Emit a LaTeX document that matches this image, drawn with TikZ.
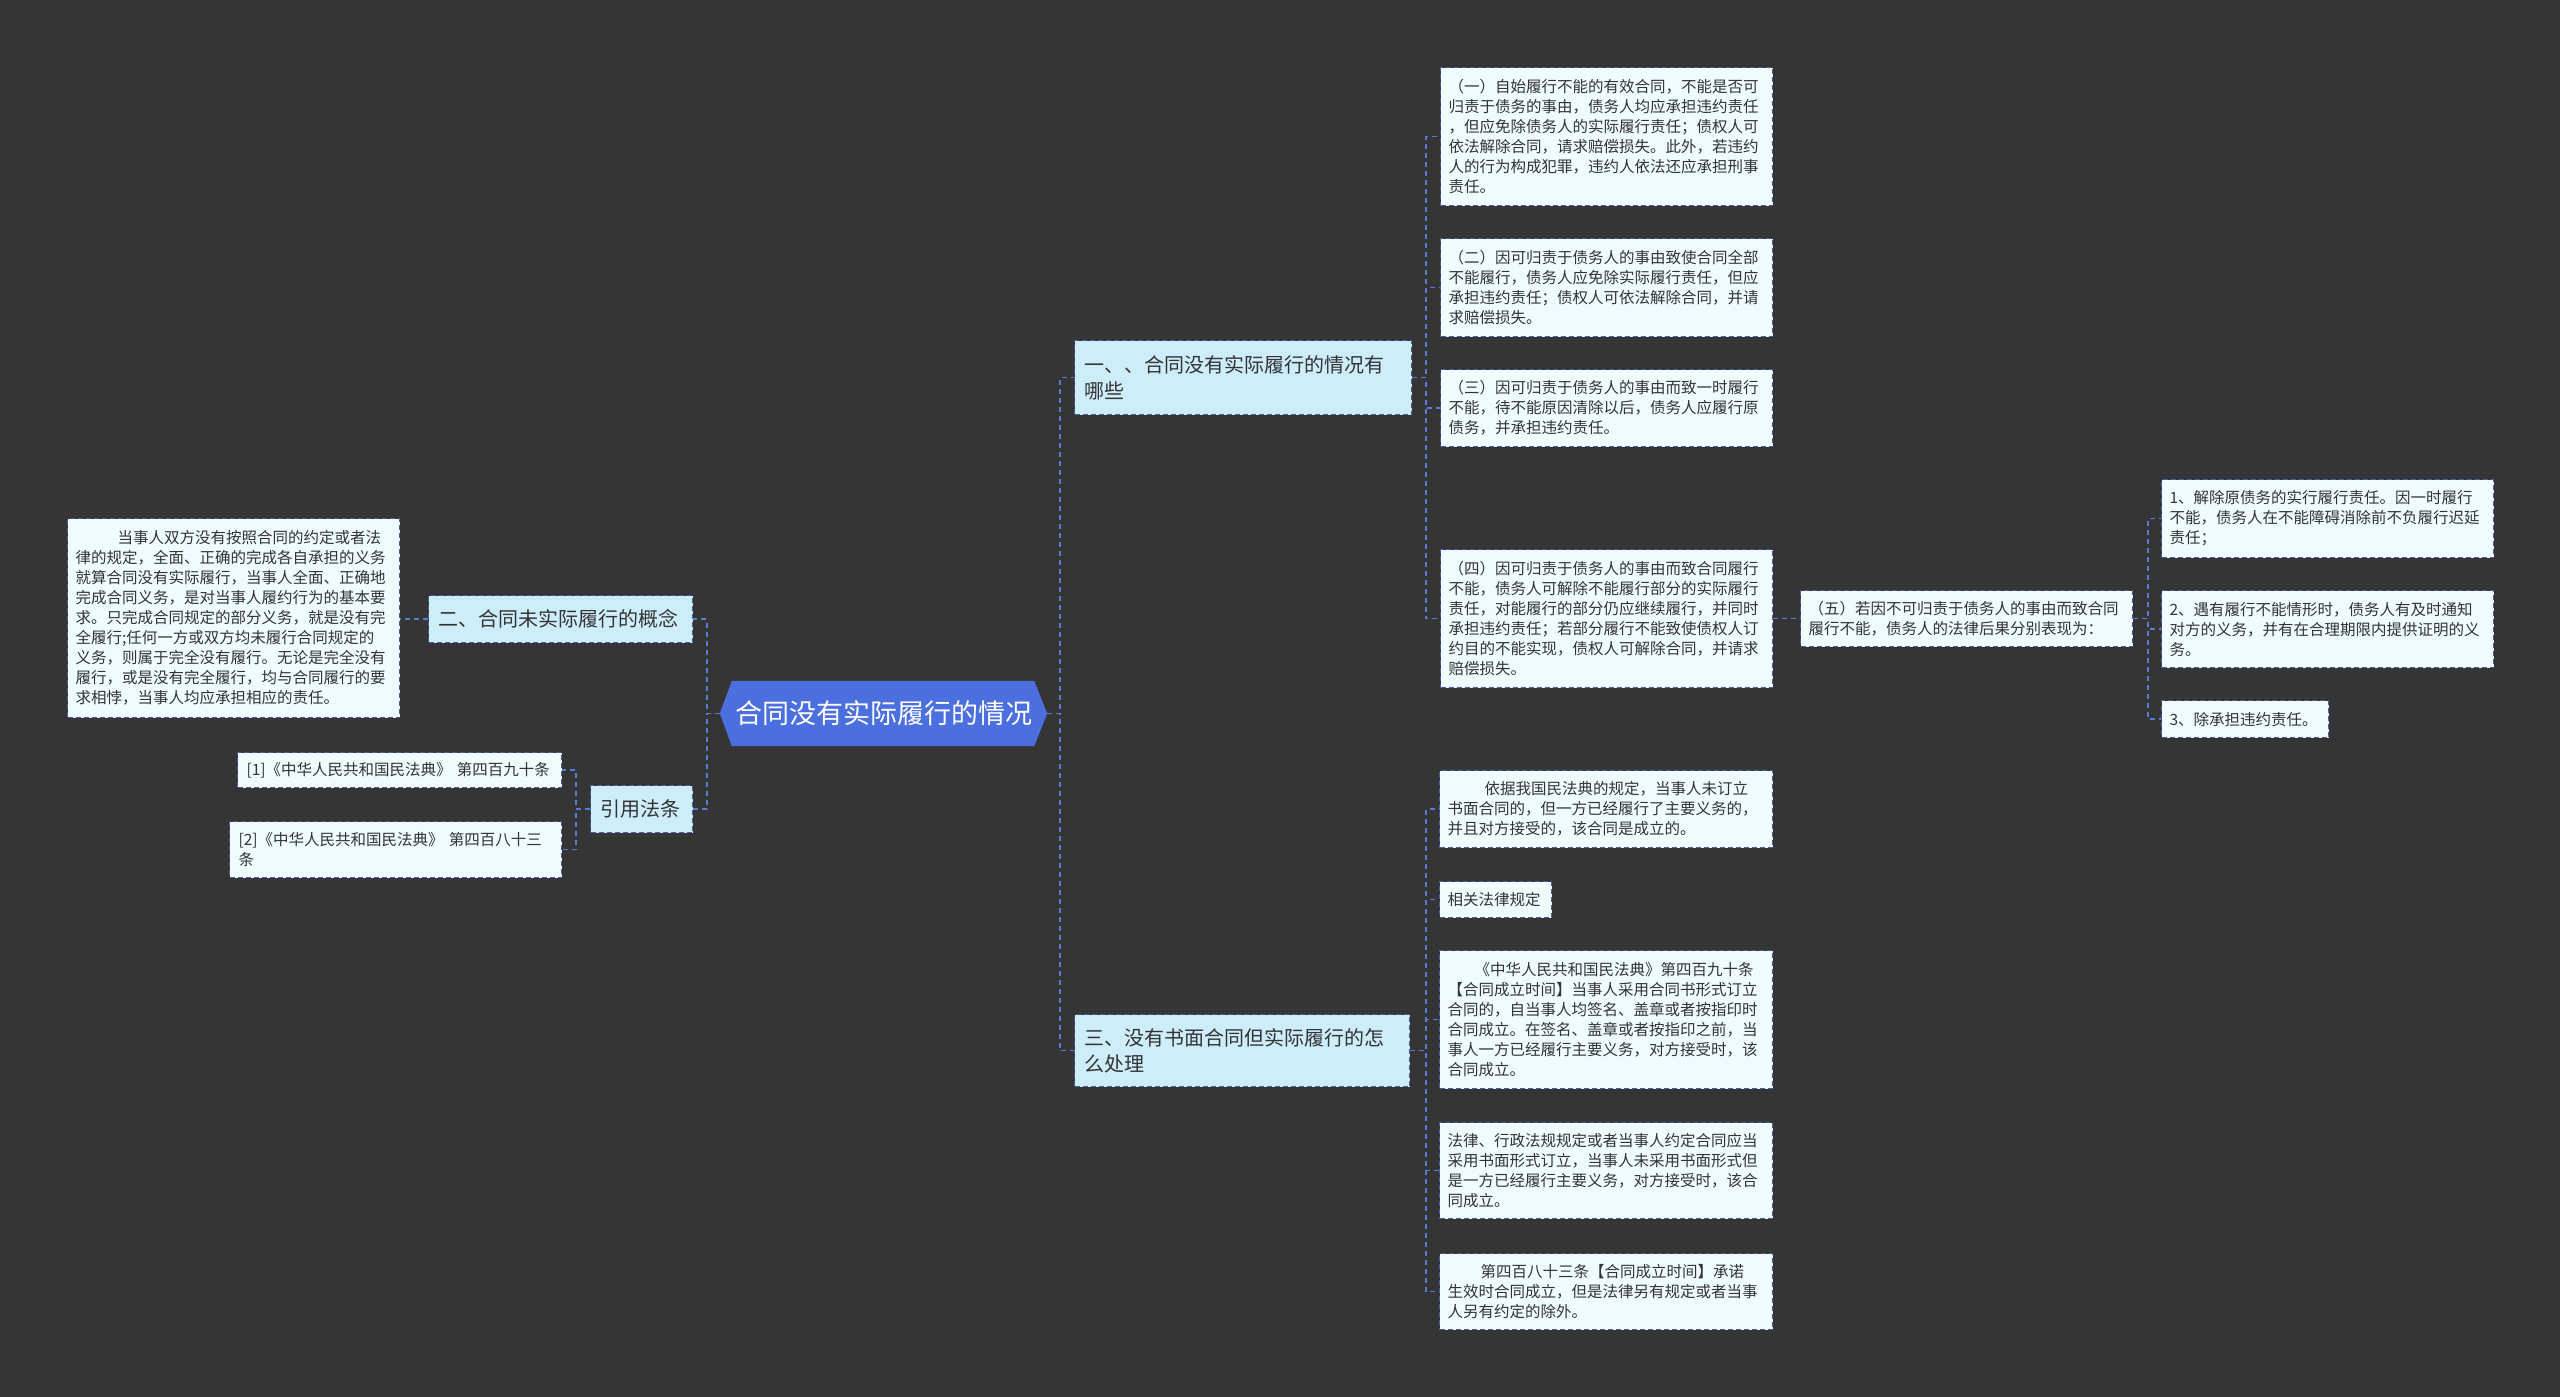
\documentclass[tikz,border=0pt]{standalone}
\usepackage{fontspec}
\setmainfont{Noto Sans CJK SC}
\usetikzlibrary{calc}
\pgfdeclarelayer{bg}
\pgfsetlayers{bg,main}
\definecolor{bgc}{HTML}{353535}
\definecolor{leaffill}{HTML}{F0FBFE}
\definecolor{secfill}{HTML}{CDEDFB}
\definecolor{rootfill}{HTML}{4B6FDE}
\definecolor{boxline}{HTML}{4A5CA6}
\definecolor{connc}{HTML}{5B7BD8}
\definecolor{txt}{HTML}{333333}
\begin{document}
\begin{tikzpicture}[x=1pt,y=-1pt,
  leaf/.style={draw=boxline, line width=1.2pt, dash pattern=on 5pt off 3pt, fill=leaffill, text=txt,
    font=\fontsize{15.5}{20}\selectfont, inner xsep=8pt, inner ysep=0pt, anchor=north west, align=left},
  sect/.style={draw=boxline, line width=1.2pt, dash pattern=on 5pt off 3pt, fill=secfill, text=txt,
    font=\fontsize{20}{26}\selectfont, inner xsep=10pt, inner ysep=0pt, anchor=north west, align=left},
  rootbox/.style={minimum width=327pt, minimum height=65pt, inner sep=0pt},
  roottext/.style={text=white, font=\fontsize{27}{32}\selectfont, inner sep=0pt},
  conn/.style={draw=connc, line width=1.6pt, dash pattern=on 5pt off 4pt}]
\useasboundingbox (0,0) rectangle (2560,1397);
\begin{pgfonlayer}{bg}
\fill[bgc] (0,0) rectangle (2560,1397);
\end{pgfonlayer}

% root
\path node[rootbox] (root) at (883.5,713.5) {};
\fill[rootfill] (root.west) -- ([xshift=12pt]root.north west) -- ([xshift=-13pt]root.north east)
  -- (root.east) -- ([xshift=-13pt]root.south east) -- ([xshift=12pt]root.south west) -- cycle;
\node[roottext] (roottxt) at (root.center) {合同没有实际履行的情况};

% sections
\node[sect, text width=317pt, minimum height=74pt] (sec1) at (1074,340)
  {一、、合同没有实际履行的情况有\\哪些};
\node[sect, text width=315pt, minimum height=72pt] (sec3) at (1074,1014)
  {三、没有书面合同但实际履行的怎\\么处理};
\node[sect, text width=244pt, minimum height=47pt] (gn) at (428,595)
  {二、合同未实际履行的概念};
\node[sect, text width=82pt, minimum height=47pt] (yy) at (590,785)
  {引用法条};

% left leaves
\node[leaf, text width=316pt, minimum height=199pt] (concept) at (67,518)
  {\hspace*{42pt}当事人双方没有按照合同的约定或者法\\律的规定，全面、正确的完成各自承担的义务\\就算合同没有实际履行，当事人全面、正确地\\完成合同义务，是对当事人履约行为的基本要\\求。只完成合同规定的部分义务，就是没有完\\全履行;任何一方或双方均未履行合同规定的\\义务，则属于完全没有履行。无论是完全没有\\履行，或是没有完全履行，均与合同履行的要\\求相悖，当事人均应承担相应的责任。};
\node[leaf, inner xsep=9pt, text width=306pt, minimum height=35pt] (r1) at (237,752)
  {[1]《中华人民共和国民法典》\ 第四百九十条};
\node[leaf, inner xsep=9pt, text width=314pt, minimum height=56pt] (r2) at (229,821)
  {[2]《中华人民共和国民法典》\ 第四百八十三\\条};

% section 1 leaves
\node[leaf, text width=316pt, minimum height=138pt] (c1) at (1440,67)
  {（一）自始履行不能的有效合同，不能是否可\\归责于债务的事由，债务人均应承担违约责任\\，但应免除债务人的实际履行责任；债权人可\\依法解除合同，请求赔偿损失。此外，若违约\\人的行为构成犯罪，违约人依法还应承担刑事\\责任。};
\node[leaf, text width=316pt, minimum height=98pt] (c2) at (1440,238)
  {（二）因可归责于债务人的事由致使合同全部\\不能履行，债务人应免除实际履行责任，但应\\承担违约责任；债权人可依法解除合同，并请\\求赔偿损失。};
\node[leaf, text width=316pt, minimum height=77pt] (c3) at (1440,369)
  {（三）因可归责于债务人的事由而致一时履行\\不能，待不能原因清除以后，债务人应履行原\\债务，并承担违约责任。};
\node[leaf, text width=316pt, minimum height=138pt] (c4) at (1440,549)
  {（四）因可归责于债务人的事由而致合同履行\\不能，债务人可解除不能履行部分的实际履行\\责任，对能履行的部分仍应继续履行，并同时\\承担违约责任；若部分履行不能致使债权人订\\约目的不能实现，债权人可解除合同，并请求\\赔偿损失。};
\node[leaf, text width=316pt, minimum height=56pt] (c5) at (1800,590)
  {（五）若因不可归责于债务人的事由而致合同\\履行不能，债务人的法律后果分别表现为：};
\node[leaf, text width=316pt, minimum height=78pt] (d1) at (2161,479)
  {1、解除原债务的实行履行责任。因一时履行\\不能，债务人在不能障碍消除前不负履行迟延\\责任；};
\node[leaf, text width=316pt, minimum height=77pt] (d2) at (2161,590)
  {2、遇有履行不能情形时，债务人有及时通知\\对方的义务，并有在合理期限内提供证明的义\\务。};
\node[leaf, text width=151pt, minimum height=37pt] (d3) at (2161,700)
  {3、除承担违约责任。};

% section 3 leaves
\node[leaf, text width=317pt, minimum height=77pt] (e1) at (1439,770)
  {\hspace*{37pt}依据我国民法典的规定，当事人未订立\\书面合同的，但一方已经履行了主要义务的，\\并且对方接受的，该合同是成立的。};
\node[leaf, text width=96pt, minimum height=36pt] (e2) at (1439,881)
  {相关法律规定};
\node[leaf, text width=317pt, minimum height=138pt] (e3) at (1439,950)
  {\hspace*{27pt}《中华人民共和国民法典》第四百九十条\\【合同成立时间】当事人采用合同书形式订立\\合同的，自当事人均签名、盖章或者按指印时\\合同成立。在签名、盖章或者按指印之前，当\\事人一方已经履行主要义务，对方接受时，该\\合同成立。};
\node[leaf, text width=317pt, minimum height=96pt] (e4) at (1439,1122)
  {法律、行政法规规定或者当事人约定合同应当\\采用书面形式订立，当事人未采用书面形式但\\是一方已经履行主要义务，对方接受时，该合\\同成立。};
\node[leaf, text width=317pt, minimum height=76pt] (e5) at (1439,1253)
  {\hspace*{33pt}第四百八十三条【合同成立时间】承诺\\生效时合同成立，但是法律另有规定或者当事\\人另有约定的除外。};

% connectors
\draw[conn] (root.east) -- ++(13,0) |- (sec1.west);
\draw[conn] (root.east) -- ++(13,0) |- (sec3.west);
\draw[conn] (root.west) -- ++(-13,0) |- (gn.east);
\draw[conn] (root.west) -- ++(-13,0) |- (yy.east);
\draw[conn] (gn.west) -- (gn.west -| concept.east);
\draw[conn] (yy.west) -- ++(-14,0) |- (r1.east);
\draw[conn] (yy.west) -- ++(-14,0) |- (r2.east);
\foreach \c in {c1,c2,c3,c4}{\draw[conn] (sec1.east) -- ++(14,0) |- (\c.west);}
\draw[conn] (c4.east) -- (c4.east -| c5.west);
\foreach \d in {d1,d2,d3}{\draw[conn] (c5.east) -- ++(15,0) |- (\d.west);}
\foreach \e in {e1,e2,e3,e4,e5}{\draw[conn] (sec3.east) -- ++(16,0) |- (\e.west);}
\end{tikzpicture}
\end{document}
